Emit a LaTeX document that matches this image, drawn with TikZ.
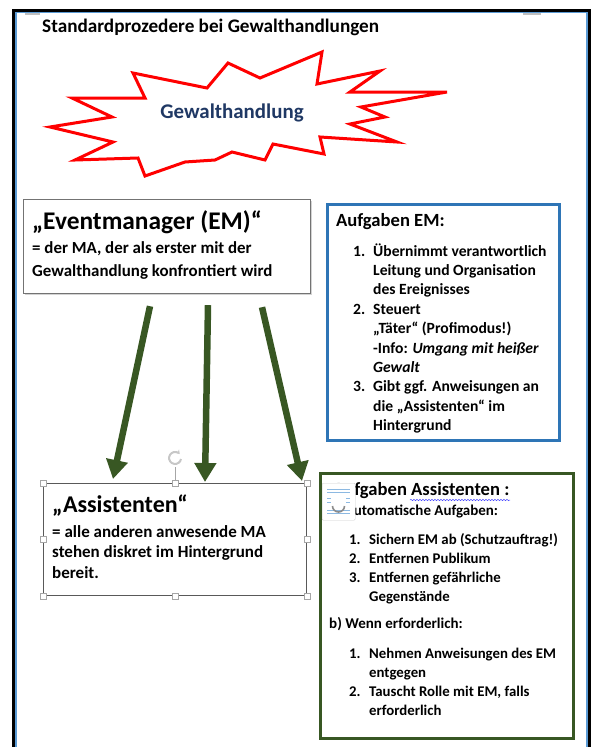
\documentclass[tikz,border=0pt]{standalone}
\usepackage{fontspec}
\setmainfont{Carlito}
\usetikzlibrary{positioning,arrows.meta,shadows,decorations.pathmorphing}
\definecolor{emblue}{HTML}{2E75B6}
\definecolor{frameblue}{HTML}{5B9BD5}
\definecolor{asgreen}{HTML}{385723}
\definecolor{gwnavy}{HTML}{1F3864}
\newcommand{\nr}[1]{\makebox[20pt][l]{#1}}
\newcommand{\nx}{\hspace*{20pt}}
\begin{document}
\begin{tikzpicture}[x=1pt,y=-1pt,
  box/.style={draw,rectangle,inner sep=0pt,anchor=north west},
  txt/.style={anchor=base west,inner sep=0pt,align=left},
  bigarrow/.style={asgreen,line width=6.5pt,-{Triangle[width=21pt,length=19pt]}},
  handle/.style={rectangle,draw=black!35,fill=white,line width=0.6pt,minimum size=6pt,inner sep=0pt}]

  \useasboundingbox (0,0) rectangle (595,747);

  %page frame
  \draw [line width=3pt] (13.5,10) rectangle (589.5,780);
  \draw [frameblue,line width=1.5pt] (16,12.5) rectangle (587,780);
  \draw [black!25,line width=1.5pt] (25,14) -- (40,14) (523,14) -- (541,14);

  %title
  \node (title) at (42,32)[txt,font=\fontsize{19.2}{22}\selectfont\bfseries]{Standardprozedere bei Gewalthandlungen};

  %starburst
  \draw [red,line width=3pt,line join=miter,fill=white]
    (50,127) -- (112,117) -- (72,98) -- (145,98) -- (133,73) -- (207,88)
    -- (228,63) -- (260,78) -- (322,52) -- (317,84) -- (380,71) -- (350,92)
    -- (447,92) -- (361,107) -- (385,117) -- (350,124) -- (397,142) -- (320,137)
    -- (324,154) -- (273,144) -- (265,160) -- (232,152) -- (215,160) -- (185,162)
    -- (145,176) -- (138,158) -- (75,160) -- (113,142) -- cycle;
  \node (gw) at (232,113)[font=\fontsize{20.9}{24}\selectfont\bfseries,text=gwnavy]{Gewalthandlung};

  %eventmanager
  \node (EM) at (23,199)[box,draw=black!55,line width=1.2pt,minimum width=287pt,minimum height=94pt,fill=white,
    drop shadow={shadow xshift=1.2pt,shadow yshift=-1.2pt,opacity=0.35}]{};
  \node (EMh) at ([shift={(9,30)}]EM.north west)[txt,font=\fontsize{25.4}{28}\selectfont\bfseries]{„Eventmanager (EM)“};
  \node (EMd) at ([shift={(9,77.5)}]EM.north west)[txt,font=\fontsize{16.9}{23.5}\selectfont\bfseries]{= der MA, der als erster mit der\\Gewalthandlung konfrontiert wird};

  %aufgaben EM
  \node (AE) at (326,203)[box,draw=emblue,line width=2.5pt,minimum width=232pt,minimum height=236pt]{};
  \node (AEh) at ([shift={(10,23)}]AE.north west)[txt,font=\fontsize{18.6}{22}\selectfont\bfseries]{Aufgaben EM:};
  \node (AEl) at ([shift={(27,227.6)}]AE.north west)[txt,font=\fontsize{15.6}{19.4}\selectfont\bfseries]{%
    \nr{1.}Übernimmt verantwortlich\\
    \nx Leitung und Organisation\\
    \nx des Ereignisses\\
    \nr{2.}Steuert\\
    \nx „Täter“ (Profimodus!)\\
    \nx -Info: \textit{Umgang mit heißer}\\
    \nx \textit{Gewalt}\\
    \nr{3.}Gibt ggf. Anweisungen an\\
    \nx die „Assistenten“ im\\
    \nx Hintergrund};

  %assistenten
  \node (AS) at (43,483)[box,draw=black!65,line width=1pt,minimum width=263pt,minimum height=112pt]{};
  \node (ASh) at ([shift={(9,29)}]AS.north west)[txt,font=\fontsize{24}{27}\selectfont\bfseries]{„Assistenten“};
  \node (ASd) at ([shift={(9,95)}]AS.north west)[txt,font=\fontsize{17}{20.5}\selectfont\bfseries]{= alle anderen anwesende MA\\stehen diskret im Hintergrund\\bereit.};

  %arrows
  \coordinate (t1) at ([shift={(127,12)}]EM.south west);
  \coordinate (t2) at ([shift={(185,11)}]EM.south west);
  \coordinate (t3) at ([shift={(239,13)}]EM.south west);
  \coordinate (h1) at ([shift={(70,-4)}]AS.north west);
  \coordinate (h2) at ([shift={(162,-1)}]AS.north west);
  \coordinate (h3) at ([shift={(259,-2)}]AS.north west);
  \draw [bigarrow] (t1) -- (h1);
  \draw [bigarrow] (t2) -- (h2);
  \draw [bigarrow] (t3) -- (h3);

  %selection handles
  \foreach \a/\n in {north west/nw,north/n,north east/ne,west/w,east/e,south west/sw,south/s,south east/se}
    \node (hd\n) at (AS.\a)[handle]{};
  \node (rot) at ([yshift=23pt]hdn)[circle,minimum size=14pt,inner sep=0pt]{};
  \draw [black!35,line width=0.6pt] (rot.south) -- (hdn.north);
  \draw [black!22,line width=2pt,-{Stealth[length=4pt,width=5pt]}] ([shift={(6,-1)}]rot.center) arc[start angle=10,end angle=320,radius=6];

  %aufgaben assistenten
  \node (AA) at (319,472)[box,draw=asgreen,line width=3pt,minimum width=253pt,minimum height=265pt]{};
  \node (AAh) at ([shift={(14,23)}]AA.north west)[txt,font=\fontsize{18.6}{22}\selectfont\bfseries]{Aufgaben Assistenten :};
  \draw [blue!70,line width=0.5pt,decorate,decoration={snake,segment length=3pt,amplitude=0.7pt}]
    ([shift={(91,28)}]AA.north west) -- ([shift={(191,28)}]AA.north west);
  \node (AAa) at ([shift={(10,43)}]AA.north west)[txt,font=\fontsize{15}{18}\selectfont\bfseries]{a) Automatische Aufgaben:};
  \node (AAl) at ([shift={(30,129.6)}]AA.north west)[txt,font=\fontsize{14.8}{19.2}\selectfont\bfseries]{%
    \nr{1.}Sichern EM ab (Schutzauftrag!)\\
    \nr{2.}Entfernen Publikum\\
    \nr{3.}Entfernen gefährliche\\
    \nx Gegenstände};
  \node (AAb) at ([shift={(10,156)}]AA.north west)[txt,font=\fontsize{15}{18}\selectfont\bfseries]{b) Wenn erforderlich:};
  \node (AAm) at ([shift={(30,243.6)}]AA.north west)[txt,font=\fontsize{14.8}{19.2}\selectfont\bfseries]{%
    \nr{1.}Nehmen Anweisungen des EM\\
    \nx entgegen\\
    \nr{2.}Tauscht Rolle mit EM, falls\\
    \nx erforderlich};

  %layout icon
  \node (lay) at (322,483)[anchor=north west,draw=black!20,fill=white,rounded corners=1pt,minimum width=33pt,minimum height=37pt,inner sep=0pt]{};
  \draw [frameblue!70,line width=0.7pt]
    ([shift={(5,6)}]lay.north west) -- ([shift={(28,6)}]lay.north west)
    ([shift={(5,9)}]lay.north west) -- ([shift={(28,9)}]lay.north west)
    ([shift={(5,15)}]lay.north west) -- ([shift={(9,15)}]lay.north west)
    ([shift={(24,15)}]lay.north west) -- ([shift={(28,15)}]lay.north west)
    ([shift={(5,19)}]lay.north west) -- ([shift={(9,19)}]lay.north west)
    ([shift={(24,19)}]lay.north west) -- ([shift={(28,19)}]lay.north west)
    ([shift={(5,27)}]lay.north west) -- ([shift={(28,27)}]lay.north west)
    ([shift={(5,30)}]lay.north west) -- ([shift={(28,30)}]lay.north west);
  \draw [black!45,line width=1.6pt] ([shift={(10.5,23)}]lay.north west) arc[start angle=180,end angle=0,radius=6];
\end{tikzpicture}
\end{document}
